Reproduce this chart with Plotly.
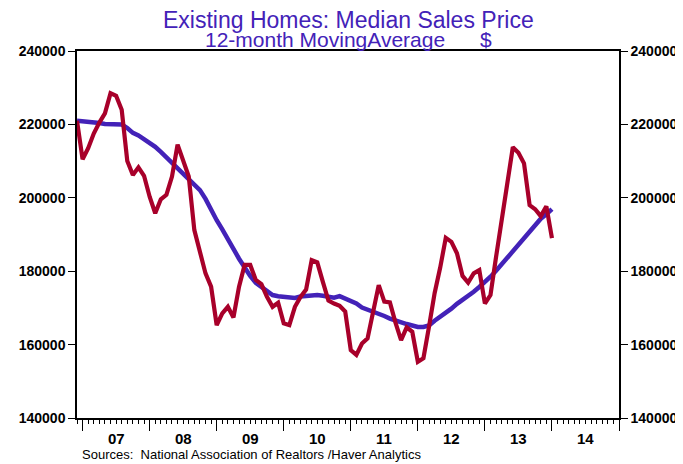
import plotly.graph_objects as go

# Monthly data Dec 2006 .. Jan 2014 (decimal-year positions built from start + index)
start_year = 2006
start_month = 12
median_price = [
    221.0, 210.5, 213.5, 217.5, 220.5, 223.0, 228.5, 227.8, 224.0, 210.0, 206.2, 208.3,
    206.0, 200.3, 195.8, 199.6, 200.8, 205.8, 214.5, 210.3, 205.8, 191.2, 184.9, 179.4,
    175.8, 165.3, 168.5, 170.3, 167.4, 175.8, 181.7, 181.7, 177.6, 176.5, 173.0, 170.3,
    171.4, 165.8, 165.3, 170.3, 173.0, 175.0, 183.0, 182.4, 177.1, 172.0, 171.2, 170.6,
    169.0, 158.5, 157.2, 160.3, 161.7, 169.4, 176.2, 171.7, 171.5, 166.0, 161.2, 164.7,
    163.5, 155.3, 156.3, 164.9, 174.0, 181.0, 189.1, 188.0, 184.9, 178.7, 176.9, 179.4,
    180.3, 171.2, 173.5, 183.9, 193.4, 204.5, 213.8, 212.3, 209.4, 198.0, 196.9, 195.0,
    197.7, 189.0,
]
moving_avg = [
    221.0, 220.9, 220.8, 220.7, 220.4, 220.1, 220.0, 220.0, 220.0, 219.0, 217.7, 217.0,
    216.0, 215.1, 213.9, 212.5, 211.0, 209.6, 208.4, 206.7, 205.1, 203.6, 202.1, 199.7,
    196.7, 193.9, 191.4, 189.0, 186.1, 183.4, 180.8, 178.7, 176.8, 175.6, 174.5, 173.5,
    173.2, 173.0, 172.7, 172.7, 173.1, 173.3, 173.5, 173.5, 173.3, 173.2, 172.8, 173.2,
    172.6, 172.0, 171.2, 170.1, 169.6, 169.0, 168.6, 167.8, 167.1, 166.5, 166.0, 165.6,
    165.2, 164.8, 164.8, 165.2, 166.5, 167.5, 168.6, 169.8, 171.1, 172.1, 173.2, 174.4,
    175.7, 177.0, 178.5, 180.1, 181.9, 183.6, 185.4, 187.3, 189.2, 191.0, 192.9, 194.3,
    195.5, 196.9,
]
year_labels = ["07", "08", "09", "10", "11", "12", "13", "14"]
label_years = [2007, 2008, 2009, 2010, 2011, 2012, 2013, 2014]
y_ticks = [140000, 160000, 180000, 200000, 220000, 240000]

t0 = start_year + (start_month - 1) / 12
xs = [t0 + i / 12 for i in range(len(median_price))]
red = [v * 1000 for v in median_price]
blue = [v * 1000 for v in moving_avg]

BLUE = "#4322B8"
RED = "#A8002A"
FONT = "Liberation Sans, Arial, sans-serif"

fig = go.Figure()
fig.add_trace(go.Scatter(x=xs, y=blue, mode="lines", line=dict(color=BLUE, width=4.5),
                         yaxis="y", showlegend=False, hoverinfo="skip"))
fig.add_trace(go.Scatter(x=xs, y=red, mode="lines", line=dict(color=RED, width=4.2),
                         yaxis="y2", showlegend=False, hoverinfo="skip"))

yax = dict(range=[140000, 240000], tickvals=y_ticks, ticktext=[str(v) for v in y_ticks],
           ticks="outside", ticklen=7, tickwidth=1.3, tickcolor="black", automargin=False,
           showgrid=False, zeroline=False, showline=True, linecolor="black", linewidth=1.5,
           tickfont=dict(family=FONT, size=14, color="black", weight="bold"))

# page body has an 8px margin, so the figure is sized to fill the rest of the window
fig.update_layout(
    width=675, height=456,
    margin=dict(l=69, r=64, t=43, b=46, autoexpand=False),
    paper_bgcolor="white", plot_bgcolor="white",
    xaxis=dict(range=[t0, 2015.0], tickvals=label_years + [2015], ticks="outside",
               ticklen=11, tickwidth=1.3, tickcolor="black", showticklabels=False,
               automargin=False,
               minor=dict(dtick=1 / 12, tick0=2007, ticks="outside", ticklen=4,
                          tickwidth=1, tickcolor="black", showgrid=False),
               showgrid=False, zeroline=False, showline=True, mirror=True,
               linecolor="black", linewidth=1.5),
    yaxis=dict(side="left", **yax),
    yaxis2=dict(side="right", overlaying="y", matches="y", **yax),
)

for yr, lab in zip(label_years, year_labels):
    fig.add_annotation(x=yr + 0.5, y=0, xref="x", yref="paper", yanchor="top",
                       yshift=-10, text=lab, showarrow=False,
                       font=dict(family=FONT, size=15, color="black", weight="bold"))

fig.add_annotation(x=0.5, y=1, xref="paper", yref="paper", yanchor="bottom", yshift=16,
                   text="Existing Homes: Median Sales Price", showarrow=False,
                   font=dict(family=FONT, size=23, color=BLUE))
fig.add_annotation(x=0.5, y=1, xref="paper", yref="paper", yanchor="bottom", yshift=-2,
                   text="12-month MovingAverage\u00a0\u00a0\u00a0\u00a0\u00a0 $", showarrow=False,
                   font=dict(family=FONT, size=21, color=BLUE))
fig.add_annotation(x=0, y=0, xref="paper", yref="paper", xanchor="left", yanchor="top",
                   xshift=3, yshift=-27,
                   text="Sources:  National Association of Realtors /Haver Analytics",
                   showarrow=False, font=dict(family=FONT, size=13, color="black"))

fig.write_html("out.html")
